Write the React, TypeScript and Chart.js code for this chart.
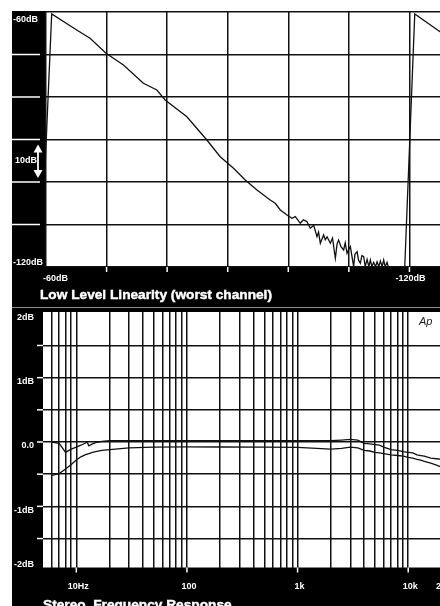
import React, { useEffect, useRef } from 'react';
import { Chart, registerables } from 'chart.js';
Chart.register(...registerables);

// ---------- Low Level Linearity (top) ----------
const linInDb = [-59.1, -60.94, -65.07, -67.27, -69.92, -72.78, -76.08, -78.3, -79.67, -83.26, -86.56, -88.76, -90.96, -92.89, -94.83, -97.02, -97.85, -98.68, -99.79, -100.61, -101.16, -101.98, -102.5, -103.09, -103.64, -104.2, -104.74, -105.0, -105.29, -105.83, -106.1, -106.4, -106.94, -107.3, -107.77, -108.05, -108.31, -108.7, -109.14, -109.4, -109.7, -110.0, -110.25, -110.5, -110.79, -111.0, -111.36, -111.6, -111.9, -112.15, -112.45, -112.7, -113.01, -113.3, -113.55, -113.8, -114.1, -114.4, -114.66, -114.95, -115.21, -115.5, -115.75, -116.0, -116.31, -116.6, -116.8, -119.2, -120.88, -125.12];
const linOutDb = [-121, -60.47, -64.24, -66.19, -69.72, -72.47, -76.78, -78.35, -80.71, -84.64, -90.12, -94.05, -96.78, -99.53, -101.88, -104.24, -105.01, -106.59, -107.76, -108.54, -108.16, -109.72, -108.9, -109.34, -110.89, -110.2, -112.87, -111.8, -114.42, -112.47, -113.6, -112.9, -114.42, -113.2, -117.95, -114.6, -113.65, -115.2, -116.0, -114.3, -116.78, -115.8, -115.22, -117.4, -119.93, -117.0, -116.4, -118.4, -119.13, -117.3, -117.58, -119.9, -118.2, -119.93, -118.35, -119.9, -118.9, -119.93, -118.75, -119.93, -118.6, -119.93, -118.35, -119.93, -118.9, -120.5, -121, -121, -60.47, -64.7];
const linGridX = [-130, -120, -110, -100, -90, -80, -70, -60];
const linGridY = [-120, -110, -100, -90, -80, -70, -60];
const linBandMarksX = [-70, -80, -90, -100, -110, -120];
const linBandMarksY = [-70, -80, -90, -100, -110];
const linTitle = 'Low Level Linearity (worst channel)';

// ---------- Stereo Frequency Response (bottom) ----------
const freqHz = [6, 7, 8, 9, 10, 11, 12, 12.5, 13, 14, 15, 17, 20, 30, 50, 100, 200, 500, 1000, 2000, 2500, 3000, 3500, 4000, 4500, 5000, 5500, 6000, 7000, 8000, 9000, 10000, 11000, 12000, 13000, 14000, 16000, 18000, 20000, 25000];
const ch1Db = [0.0, -0.02, -0.16, -0.11, -0.08, -0.05, -0.02, 0.0, -0.06, -0.03, -0.01, 0.01, 0.02, 0.02, 0.02, 0.02, 0.02, 0.02, 0.02, 0.02, 0.03, 0.04, 0.03, -0.02, -0.03, -0.04, -0.05, -0.08, -0.12, -0.13, -0.15, -0.16, -0.17, -0.2, -0.21, -0.22, -0.25, -0.26, -0.27, -0.3];
const ch2Db = [-0.52, -0.49, -0.42, -0.35, -0.28, -0.23, -0.2, -0.19, -0.18, -0.16, -0.15, -0.13, -0.12, -0.09, -0.08, -0.075, -0.078, -0.08, -0.085, -0.11, -0.1, -0.08, -0.09, -0.13, -0.14, -0.16, -0.17, -0.18, -0.2, -0.21, -0.22, -0.24, -0.25, -0.27, -0.28, -0.3, -0.33, -0.36, -0.39, -0.45];
const freqGrid = [6, 7, 8, 9, 10, 20, 30, 40, 50, 60, 70, 80, 90, 100, 200, 300, 400, 500, 600, 700, 800, 900, 1000, 2000, 3000, 4000, 5000, 6000, 7000, 8000, 9000, 10000, 20000];
const dbGrid = [-1.5, -1, -0.5, 0, 0.5, 1, 1.5];
const freqLabelVals = [10, 100, 1000, 10000, 20000];
const freqLabels = ['10Hz', '100', '1k', '10k', '20k'];
const dbLabelVals = [2, 1, 0, -1, -2];
const dbLabels = ['2dB', '1dB', '0.0', '-1dB', '-2dB'];
const frTitle = 'Stereo  Frequency Response';

const BAND_FONT = "bold 9px 'Liberation Sans', Arial, sans-serif";
const TITLE_FONT = "bold 13.7px 'Liberation Sans', Arial, sans-serif";
const GRID = { color: '#111', lineWidth: 1.5, drawTicks: false };

const whiteArea = {
  id: 'whiteArea',
  beforeDraw(chart: any) {
    const { ctx, chartArea: a } = chart;
    ctx.save();
    ctx.fillStyle = '#fff';
    ctx.fillRect(a.left, a.top, a.right - a.left, a.bottom - a.top);
    ctx.restore();
  },
};

function heavyText(ctx: any, text: string, x: number, y: number) {
  ctx.fillText(text, x, y);
  ctx.lineWidth = 0.45;
  ctx.strokeText(text, x, y);
}

const topDecor = {
  id: 'topDecor',
  afterDraw(chart: any) {
    const { ctx, chartArea: a } = chart;
    const x = chart.scales.x;
    const y = chart.scales.y;
    ctx.save();
    ctx.strokeStyle = '#fff';
    ctx.fillStyle = '#fff';
    ctx.lineWidth = 1.5;
    for (const v of linBandMarksY) {
      const py = y.getPixelForValue(v);
      ctx.beginPath(); ctx.moveTo(0, py); ctx.lineTo(a.left - 6, py); ctx.stroke();
    }
    for (const v of linBandMarksX) {
      const px = x.getPixelForValue(v);
      ctx.beginPath(); ctx.moveTo(px, a.bottom); ctx.lineTo(px, a.bottom + 5); ctx.stroke();
    }
    ctx.font = BAND_FONT;
    ctx.textBaseline = 'middle';
    ctx.textAlign = 'left';
    ctx.fillText('-60dB', 1, y.getPixelForValue(-60) + 8);
    ctx.fillText('-120dB', 1, y.getPixelForValue(-120) - 4);
    const y90 = y.getPixelForValue(-90);
    const y100 = y.getPixelForValue(-100);
    ctx.fillText('10dB', 3, (y90 + y100) / 2);
    // arrow
    const ax = 26;
    const t = y90 + 5, b = y100 - 4;
    ctx.lineWidth = 1.8;
    ctx.beginPath(); ctx.moveTo(ax, t + 5); ctx.lineTo(ax, b - 5); ctx.stroke();
    ctx.beginPath(); ctx.moveTo(ax, t); ctx.lineTo(ax - 4.5, t + 8); ctx.lineTo(ax + 4.5, t + 8); ctx.closePath(); ctx.fill();
    ctx.beginPath(); ctx.moveTo(ax, b); ctx.lineTo(ax - 4.5, b - 8); ctx.lineTo(ax + 4.5, b - 8); ctx.closePath(); ctx.fill();
    // x labels
    ctx.fillText('-60dB', x.getPixelForValue(-60) - 3, a.bottom + 12);
    ctx.textAlign = 'center';
    ctx.fillText('-120dB', x.getPixelForValue(-120) + 1, a.bottom + 12);
    ctx.font = TITLE_FONT;
    ctx.textAlign = 'left';
    ctx.textBaseline = 'alphabetic';
    heavyText(ctx, linTitle, 28, a.bottom + 32);
    ctx.restore();
  },
};

const botDecor = {
  id: 'botDecor',
  afterDraw(chart: any) {
    const { ctx, chartArea: a } = chart;
    const x = chart.scales.x;
    const y = chart.scales.y;
    ctx.save();
    ctx.strokeStyle = '#fff';
    ctx.fillStyle = '#fff';
    ctx.lineWidth = 1.5;
    for (const v of dbGrid) {
      const py = y.getPixelForValue(v);
      ctx.beginPath(); ctx.moveTo(a.left - 6, py); ctx.lineTo(a.left, py); ctx.stroke();
    }
    for (const v of freqLabelVals) {
      const px = x.getPixelForValue(v);
      ctx.beginPath(); ctx.moveTo(px, a.bottom); ctx.lineTo(px, a.bottom + 5); ctx.stroke();
    }
    ctx.font = BAND_FONT;
    ctx.textBaseline = 'middle';
    ctx.textAlign = 'right';
    dbLabelVals.forEach((v, i) => {
      let py = y.getPixelForValue(v) + 4;
      py = Math.max(a.top + 3, Math.min(a.bottom - 3, py));
      ctx.fillText(dbLabels[i], 22, py);
    });
    ctx.textAlign = 'center';
    freqLabelVals.forEach((v, i) => {
      ctx.fillText(freqLabels[i], x.getPixelForValue(v) + 2, a.bottom + 19);
    });
    ctx.font = TITLE_FONT;
    ctx.textAlign = 'left';
    ctx.textBaseline = 'alphabetic';
    heavyText(ctx, frTitle, 31, a.bottom + 41);
    ctx.fillStyle = '#222';
    ctx.font = "italic 11px 'Liberation Sans', Arial, sans-serif";
    ctx.textBaseline = 'middle';
    ctx.fillText('Ap', 407, a.top + 10);
    ctx.restore();
  },
};

export default function App() {
  const topRef = useRef<HTMLCanvasElement>(null);
  const botRef = useRef<HTMLCanvasElement>(null);

  useEffect(() => {
    const linPoints = linInDb.map((v, i) => ({ x: v, y: linOutDb[i] }));
    const top = new Chart(topRef.current as HTMLCanvasElement, {
      type: 'scatter',
      data: {
        datasets: [{
          data: linPoints, showLine: true, borderColor: '#111', borderWidth: 1.3,
          pointRadius: 0, tension: 0, fill: false,
        }],
      },
      options: {
        responsive: false, animation: false, devicePixelRatio: 1, events: [],
        layout: { padding: { left: 34, top: 1, right: 0, bottom: 41 } },
        plugins: { legend: { display: false }, tooltip: { enabled: false } },
        scales: {
          x: {
            type: 'linear', reverse: true, min: -130, max: -60,
            afterBuildTicks: (s: any) => { s.ticks = linGridX.map((v) => ({ value: v })); },
            ticks: { display: false, autoSkip: false }, grid: GRID, border: { display: false },
          },
          y: {
            type: 'linear', min: -120, max: -60,
            afterBuildTicks: (s: any) => { s.ticks = linGridY.map((v) => ({ value: v })); },
            ticks: { display: false, autoSkip: false }, grid: GRID, border: { display: false },
          },
        },
      } as any,
      plugins: [whiteArea, topDecor],
    });

    const bot = new Chart(botRef.current as HTMLCanvasElement, {
      type: 'scatter',
      data: {
        datasets: [
          { data: freqHz.map((f, i) => ({ x: f, y: ch1Db[i] })), showLine: true, borderColor: '#111', borderWidth: 1.3, pointRadius: 0, tension: 0 },
          { data: freqHz.map((f, i) => ({ x: f, y: ch2Db[i] })), showLine: true, borderColor: '#111', borderWidth: 1.3, pointRadius: 0, tension: 0 },
        ],
      },
      options: {
        responsive: false, animation: false, devicePixelRatio: 1, events: [],
        layout: { padding: { left: 31, top: 3, right: 0, bottom: 51.5 } },
        plugins: { legend: { display: false }, tooltip: { enabled: false } },
        scales: {
          x: {
            type: 'logarithmic', min: 5, max: 30000,
            afterBuildTicks: (s: any) => { s.ticks = freqGrid.map((v) => ({ value: v })); },
            ticks: { display: false, autoSkip: false }, grid: GRID, border: { display: false },
          },
          y: {
            type: 'linear', min: -1.95, max: 2.02,
            afterBuildTicks: (s: any) => { s.ticks = dbGrid.map((v) => ({ value: v })); },
            ticks: { display: false, autoSkip: false }, grid: GRID, border: { display: false },
          },
        },
      } as any,
      plugins: [whiteArea, botDecor],
    });

    return () => { top.destroy(); bot.destroy(); };
  }, []);

  return (
    <div style={{ position: 'fixed', left: 0, top: 0, width: 440, height: 606, overflow: 'hidden', background: '#fff' }}>
      <div style={{ position: 'absolute', left: 12, top: 11, width: 470, height: 620, background: '#000' }} />
      <canvas ref={topRef} width={458} height={297} style={{ position: 'absolute', left: 12, top: 11 }} />
      <div style={{ position: 'absolute', left: 12, top: 307, width: 440, height: 1, background: '#8a8a8a' }} />
      <canvas ref={botRef} width={449} height={310} style={{ position: 'absolute', left: 12, top: 309 }} />
    </div>
  );
}
